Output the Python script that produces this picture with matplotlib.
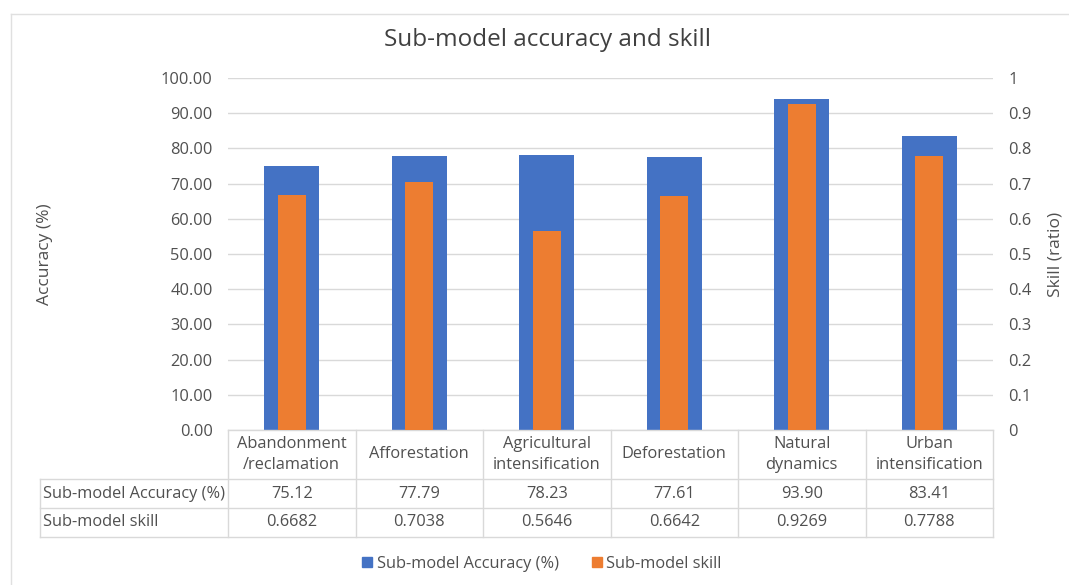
import matplotlib
matplotlib.use("Agg")
import matplotlib.pyplot as plt
from matplotlib.lines import Line2D
from matplotlib.patches import Rectangle
import matplotlib.transforms as mtransforms

plt.rcParams['font.family'] = ['Open Sans', 'DejaVu Sans']

categories = ["Abandonment\n/reclamation", "Afforestation", "Agricultural\nintensification",
              "Deforestation", "Natural\ndynamics", "Urban\nintensification"]
accuracy = [75.12, 77.79, 78.23, 77.61, 93.90, 83.41]
skill = [0.6682, 0.7038, 0.5646, 0.6642, 0.9269, 0.7788]
acc_labels = ["75.12", "77.79", "78.23", "77.61", "93.90", "83.41"]
skill_labels = ["0.6682", "0.7038", "0.5646", "0.6642", "0.9269", "0.7788"]
series_names = ["Sub-model Accuracy (%)", "Sub-model skill"]

BLUE = "#4472C4"
ORANGE = "#ED7D31"
TXT = "#505050"
GRID = "#D9D9D9"
FS = 11.8

W, H = 1069, 585
fig = plt.figure(figsize=(W / 100, H / 100), dpi=100)
fig.patch.set_facecolor("white")

x0, x1 = 228, 993
y_top, y_bot = 78, 430
ax = fig.add_axes([x0 / W, 1 - y_bot / H, (x1 - x0) / W, (y_bot - y_top) / H])
ax2 = ax.twinx()

xs = list(range(len(categories)))
ax.bar(xs, accuracy, width=0.43, color=BLUE, zorder=2)
ax2.bar(xs, skill, width=0.22, color=ORANGE, zorder=3)

ax.set_xlim(-0.5, len(categories) - 0.5)
ax.set_ylim(0, 100)
ax2.set_ylim(0, 1)
ax.set_yticks([i * 10 for i in range(11)])
ax.set_yticklabels([f"{i * 10:.2f}" for i in range(11)])
ax2.set_yticks([i / 10 for i in range(11)])
ax2.set_yticklabels(["0"] + [f"{i / 10:.1f}" for i in range(1, 10)] + ["1"])
ax.set_xticks([])
for a in (ax, ax2):
    for s in a.spines.values():
        s.set_visible(False)
    a.tick_params(axis="y", length=0, labelsize=FS, colors=TXT)
ax.tick_params(axis="y", pad=11)
ax2.tick_params(axis="y", pad=11)
ax.grid(axis="y", color=GRID, linewidth=1, zorder=0)
ax.set_axisbelow(True)

ax.set_ylabel("Accuracy (%)", fontsize=12.5, color=TXT, labelpad=0)
ax.yaxis.set_label_coords((53 - x0) / (x1 - x0), 0.5)
ax2.set_ylabel("Skill (ratio)", fontsize=12.5, color=TXT, rotation=90)
ax2.yaxis.set_label_coords((1047 - x0) / (x1 - x0), 0.5)

fig.text(547 / W, 1 - 40 / H, "Sub-model accuracy and skill", ha="center", va="center",
         fontsize=17.5, color="#404040")

# data table
tr = mtransforms.blended_transform_factory(ax.transData, ax.transAxes)
ph = (y_bot - y_top)

def ay(py):
    return (y_bot - py) / ph

rows_y = [430, 479, 508, 537]
left_x = (40 - x0) / 127.5 - 0.5
n = len(categories)
lk = dict(color=GRID, linewidth=1, transform=tr, clip_on=False)
ax.add_line(Line2D([-0.5, n - 0.5], [ay(430), ay(430)], **lk))
for py in rows_y[1:]:
    ax.add_line(Line2D([left_x, n - 0.5], [ay(py), ay(py)], **lk))
for i in range(n + 1):
    ax.add_line(Line2D([i - 0.5, i - 0.5], [ay(430), ay(537)], **lk))
ax.add_line(Line2D([left_x, left_x], [ay(479), ay(537)], **lk))

for i, c in enumerate(categories):
    ax.text(i, ay(454.5), c, transform=tr, ha="center", va="center", fontsize=FS,
            color=TXT, linespacing=1.45)
    ax.text(i, ay(493.5), acc_labels[i], transform=tr, ha="center", va="center",
            fontsize=FS, color=TXT)
    ax.text(i, ay(522.5), skill_labels[i], transform=tr, ha="center", va="center",
            fontsize=FS, color=TXT)
ax.text(left_x + 0.02, ay(493.5), series_names[0], transform=tr, ha="left", va="center",
        fontsize=FS, color=TXT)
ax.text(left_x + 0.02, ay(522.5), series_names[1], transform=tr, ha="left", va="center",
        fontsize=FS, color=TXT)

# legend
handles = [Rectangle((0, 0), 1, 1, color=BLUE), Rectangle((0, 0), 1, 1, color=ORANGE)]
fig.legend(handles, series_names, loc="center", bbox_to_anchor=(542 / W, 1 - 564 / H),
           ncol=2, frameon=False, fontsize=FS, handlelength=0.6, handleheight=0.6,
           handletextpad=0.3, columnspacing=2.0, labelcolor=TXT)

# chart frame
fig.add_artist(Line2D([11 / W, 11 / W], [0, 1 - 14 / H], transform=fig.transFigure,
                      color="#E0E0E0", linewidth=1))
fig.add_artist(Line2D([11 / W, 1], [1 - 14 / H, 1 - 14 / H], transform=fig.transFigure,
                      color="#E0E0E0", linewidth=1))

fig.savefig("out.png", dpi=100)
